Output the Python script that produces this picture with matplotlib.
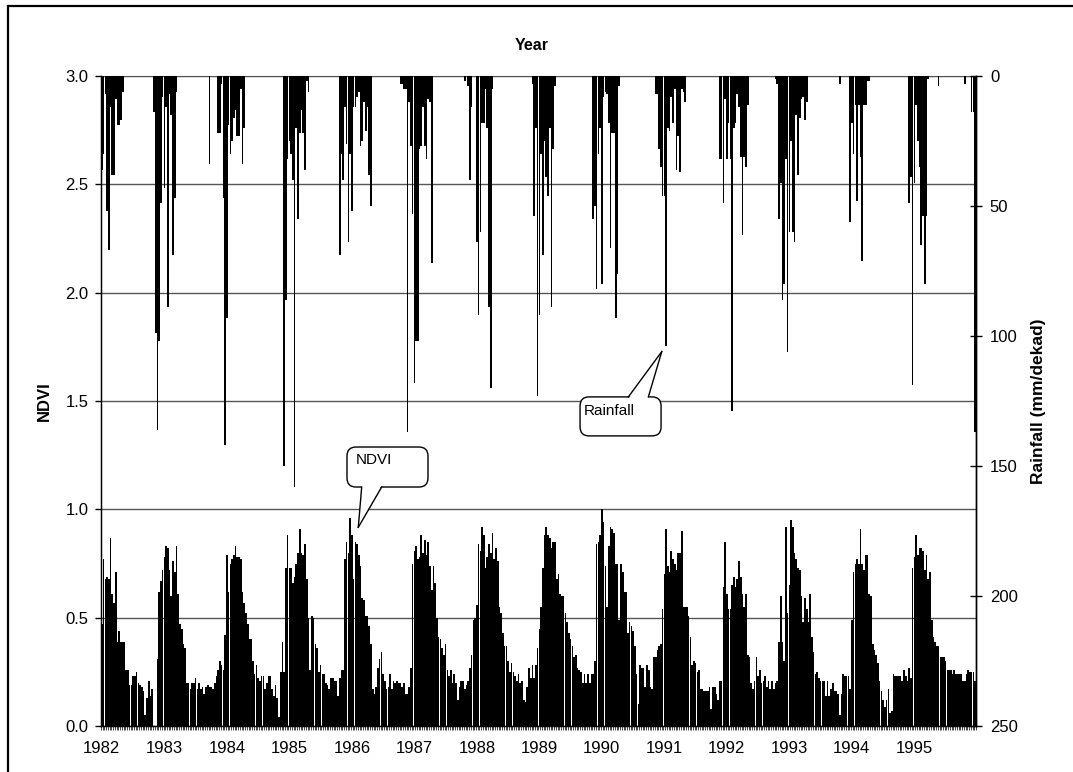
import matplotlib.pyplot as plt
import numpy as np
from matplotlib.patches import FancyBboxPatch, Polygon, Rectangle
from matplotlib.lines import Line2D
from matplotlib.transforms import ScaledTranslation

years = list(range(1982, 1996))

# NDVI per dekad (36 per year)
ndvi_1982 = [0.47, 0.77, 0.68, 0.69, 0.68, 0.87, 0.61, 0.57, 0.71, 0.39, 0.44, 0.39,
             0.39, 0.39, 0.26, 0.26, 0.19, 0.19, 0.23, 0.23, 0.25, 0.20, 0.19, 0.18,
             0.16, 0.05, 0.13, 0.21, 0.14, 0.17, 0.00, 0.00, 0.31, 0.62, 0.67, 0.72]
ndvi_1983 = [0.78, 0.83, 0.82, 0.72, 0.60, 0.76, 0.71, 0.83, 0.61, 0.47, 0.45, 0.38,
             0.36, 0.20, 0.20, 0.17, 0.20, 0.20, 0.22, 0.17, 0.20, 0.17, 0.18, 0.15,
             0.18, 0.19, 0.18, 0.18, 0.17, 0.20, 0.23, 0.26, 0.30, 0.28, 0.26, 0.42]
ndvi_1984 = [0.79, 0.62, 0.75, 0.77, 0.79, 0.83, 0.78, 0.78, 0.77, 0.62, 0.57, 0.52,
             0.47, 0.40, 0.40, 0.30, 0.24, 0.28, 0.22, 0.21, 0.23, 0.23, 0.17, 0.20,
             0.23, 0.23, 0.17, 0.14, 0.19, 0.13, 0.04, 0.25, 0.39, 0.25, 0.73, 0.88]
ndvi_1985 = [0.73, 0.73, 0.66, 0.69, 0.75, 0.80, 0.91, 0.80, 0.79, 0.84, 0.68, 0.50,
             0.26, 0.51, 0.50, 0.38, 0.36, 0.25, 0.28, 0.24, 0.24, 0.20, 0.19, 0.17,
             0.22, 0.22, 0.21, 0.21, 0.14, 0.22, 0.26, 0.26, 0.77, 0.85, 0.80, 0.96]
ndvi_1986 = [0.88, 0.68, 0.85, 0.84, 0.79, 0.74, 0.59, 0.58, 0.51, 0.51, 0.46, 0.38,
             0.17, 0.15, 0.18, 0.27, 0.31, 0.34, 0.24, 0.21, 0.17, 0.18, 0.24, 0.17,
             0.21, 0.20, 0.21, 0.20, 0.20, 0.18, 0.20, 0.15, 0.15, 0.18, 0.27, 0.75]
ndvi_1987 = [0.81, 0.83, 0.77, 0.78, 0.88, 0.80, 0.86, 0.79, 0.85, 0.74, 0.63, 0.74,
             0.66, 0.50, 0.41, 0.40, 0.36, 0.33, 0.38, 0.26, 0.23, 0.26, 0.20, 0.24,
             0.20, 0.12, 0.18, 0.21, 0.21, 0.17, 0.19, 0.21, 0.27, 0.33, 0.49, 0.50]
ndvi_1988 = [0.56, 0.84, 0.81, 0.92, 0.88, 0.73, 0.78, 0.84, 0.80, 0.89, 0.77, 0.82,
             0.76, 0.55, 0.52, 0.43, 0.37, 0.37, 0.30, 0.25, 0.29, 0.25, 0.23, 0.21,
             0.24, 0.20, 0.21, 0.12, 0.11, 0.18, 0.27, 0.22, 0.28, 0.22, 0.28, 0.36]
ndvi_1989 = [0.45, 0.55, 0.73, 0.88, 0.92, 0.88, 0.87, 0.82, 0.85, 0.85, 0.68, 0.70,
             0.61, 0.60, 0.60, 0.52, 0.48, 0.43, 0.40, 0.37, 0.32, 0.33, 0.27, 0.26,
             0.25, 0.20, 0.24, 0.20, 0.24, 0.20, 0.24, 0.24, 0.30, 0.84, 0.85, 0.88]
ndvi_1990 = [1.00, 0.94, 0.74, 0.55, 0.83, 0.92, 0.91, 0.89, 0.75, 0.75, 0.49, 0.75,
             0.71, 0.62, 0.62, 0.43, 0.48, 0.46, 0.44, 0.37, 0.24, 0.10, 0.28, 0.27,
             0.27, 0.18, 0.28, 0.26, 0.18, 0.17, 0.32, 0.32, 0.35, 0.37, 0.38, 0.54]
ndvi_1991 = [0.70, 0.91, 0.74, 0.71, 0.81, 0.77, 0.75, 0.72, 0.80, 0.80, 0.90, 0.55,
             0.55, 0.55, 0.51, 0.41, 0.28, 0.30, 0.29, 0.25, 0.26, 0.17, 0.17, 0.16,
             0.16, 0.16, 0.18, 0.08, 0.18, 0.18, 0.15, 0.12, 0.21, 0.21, 0.64, 0.85]
ndvi_1992 = [0.61, 0.54, 0.54, 0.65, 0.69, 0.64, 0.68, 0.76, 0.69, 0.61, 0.55, 0.61,
             0.33, 0.32, 0.20, 0.17, 0.21, 0.32, 0.23, 0.26, 0.20, 0.21, 0.23, 0.18,
             0.21, 0.17, 0.21, 0.17, 0.20, 0.21, 0.39, 0.60, 0.39, 0.30, 0.92, 0.52]
ndvi_1993 = [0.65, 0.95, 0.92, 0.80, 0.77, 0.73, 0.72, 0.60, 0.48, 0.59, 0.54, 0.48,
             0.61, 0.41, 0.34, 0.24, 0.25, 0.22, 0.21, 0.21, 0.21, 0.14, 0.21, 0.14,
             0.17, 0.20, 0.16, 0.16, 0.15, 0.05, 0.15, 0.24, 0.23, 0.23, 0.23, 0.17]
ndvi_1994 = [0.49, 0.71, 0.75, 0.77, 0.75, 0.91, 0.75, 0.72, 0.79, 0.79, 0.61, 0.60,
             0.38, 0.35, 0.33, 0.29, 0.21, 0.16, 0.12, 0.09, 0.12, 0.17, 0.06, 0.07,
             0.24, 0.23, 0.23, 0.23, 0.23, 0.21, 0.26, 0.23, 0.21, 0.27, 0.22, 0.73]
ndvi_1995 = [0.78, 0.88, 0.79, 0.82, 0.82, 0.81, 0.72, 0.79, 0.68, 0.71, 0.49, 0.41,
             0.39, 0.37, 0.37, 0.32, 0.32, 0.32, 0.30, 0.26, 0.26, 0.26, 0.24, 0.26,
             0.24, 0.24, 0.24, 0.24, 0.21, 0.21, 0.24, 0.26, 0.25, 0.25, 0.25, 0.21]

# Rainfall (mm/dekad)
rain_1982 = [36, 30, 7, 52, 67, 12, 38, 38, 9, 19, 19, 17,
             6, 0, 0, 0, 0, 0, 0, 0, 0, 0, 0, 0,
             0, 0, 0, 0, 0, 0, 14, 99, 136, 102, 49, 8]
rain_1983 = [43, 12, 89, 7, 15, 69, 47, 6, 0, 0, 0, 0,
             0, 0, 0, 0, 0, 0, 0, 0, 0, 0, 0, 0,
             0, 0, 34, 0, 0, 0, 0, 22, 22, 3, 47, 142]
rain_1984 = [93, 19, 30, 25, 16, 13, 23, 23, 5, 34, 20, 0,
             0, 0, 0, 0, 0, 0, 0, 0, 0, 0, 0, 0,
             0, 0, 0, 0, 0, 0, 0, 0, 0, 150, 86, 32]
rain_1985 = [25, 30, 40, 158, 20, 55, 22, 13, 22, 36, 2, 6,
             0, 0, 0, 0, 0, 0, 0, 0, 0, 0, 0, 0,
             0, 0, 0, 0, 0, 69, 30, 40, 12, 26, 64, 30]
rain_1986 = [52, 12, 12, 8, 6, 27, 25, 10, 21, 12, 38, 50,
             0, 0, 0, 0, 0, 0, 0, 0, 0, 0, 0, 0,
             0, 0, 0, 0, 3, 3, 5, 5, 137, 10, 27, 53]
rain_1987 = [118, 102, 102, 28, 27, 12, 27, 32, 9, 10, 72, 0,
             0, 0, 0, 0, 0, 0, 0, 0, 0, 0, 0, 0,
             0, 0, 0, 0, 0, 2, 0, 4, 40, 12, 0, 0]
rain_1988 = [64, 92, 60, 18, 18, 5, 20, 89, 120, 5, 0, 0,
             0, 0, 0, 0, 0, 0, 0, 0, 0, 0, 0, 0,
             0, 0, 0, 0, 0, 0, 0, 0, 3, 54, 20, 123]
rain_1989 = [92, 30, 69, 25, 39, 46, 20, 89, 28, 4, 0, 0,
             0, 0, 0, 0, 0, 0, 0, 0, 0, 0, 0, 0,
             0, 0, 0, 0, 0, 0, 0, 55, 50, 82, 30, 20]
rain_1990 = [80, 8, 6, 7, 18, 66, 22, 22, 93, 76, 4, 0,
             0, 0, 0, 0, 0, 0, 0, 0, 0, 0, 0, 0,
             0, 0, 0, 0, 0, 0, 0, 7, 7, 28, 35, 46]
rain_1991 = [46, 104, 20, 21, 8, 18, 5, 36, 23, 37, 5, 6,
             10, 0, 0, 0, 0, 0, 0, 0, 0, 0, 0, 0,
             0, 0, 0, 0, 0, 0, 0, 0, 32, 32, 49, 9]
rain_1992 = [32, 18, 32, 129, 20, 18, 7, 12, 31, 61, 31, 35,
             11, 0, 0, 0, 0, 0, 0, 0, 0, 0, 0, 0,
             0, 0, 0, 0, 1, 3, 55, 41, 86, 80, 32, 106]
rain_1993 = [60, 25, 60, 64, 15, 38, 16, 9, 8, 17, 10, 0,
             0, 0, 0, 0, 0, 0, 0, 0, 0, 0, 0, 0,
             0, 0, 0, 0, 0, 3, 0, 0, 0, 0, 0, 56]
rain_1994 = [18, 30, 11, 48, 11, 31, 71, 11, 11, 2, 2, 0,
             0, 0, 0, 0, 0, 0, 0, 0, 0, 0, 0, 0,
             0, 0, 0, 0, 0, 0, 0, 0, 0, 49, 39, 119]
rain_1995 = [41, 11, 25, 35, 65, 54, 80, 54, 1, 0, 0, 0,
             0, 0, 4, 0, 0, 0, 0, 0, 0, 0, 0, 0,
             0, 0, 0, 0, 0, 3, 0, 0, 0, 14, 14, 137]

ndvi = np.concatenate([ndvi_1982, ndvi_1983, ndvi_1984, ndvi_1985, ndvi_1986,
                       ndvi_1987, ndvi_1988, ndvi_1989, ndvi_1990, ndvi_1991,
                       ndvi_1992, ndvi_1993, ndvi_1994, ndvi_1995])
rain = np.concatenate([rain_1982, rain_1983, rain_1984, rain_1985, rain_1986,
                       rain_1987, rain_1988, rain_1989, rain_1990, rain_1991,
                       rain_1992, rain_1993, rain_1994, rain_1995])
x = np.arange(len(ndvi))

plt.rcParams['font.family'] = ['Liberation Sans', 'DejaVu Sans']
W, H = 1073, 772
fig = plt.figure(figsize=(W / 100, H / 100), dpi=100)
ax = fig.add_axes([101 / W, 46 / H, 875 / W, 650 / H])

# NDVI bars
ax.bar(x, ndvi, width=0.95, color='black', linewidth=0, zorder=2)
ax.set_xlim(-0.5, len(x) - 0.5)
ax.set_ylim(0, 3)
ax.set_yticks(np.arange(0, 3.01, 0.5))
ax.set_yticklabels(["%.1f" % v for v in np.arange(0, 3.01, 0.5)])
ax.yaxis.grid(True, color='#555555', linewidth=1)
ax.set_axisbelow(True)
ax.set_xticks(x[::36])
ax.set_xticklabels([str(y) for y in years])
ax.set_xticks(np.arange(-0.5, len(x), 1), minor=True)
ax.tick_params(axis='x', which='major', length=0, pad=11, labelsize=12)
ax.tick_params(axis='x', which='minor', length=3, width=0.5, direction='out')
ax.tick_params(axis='y', length=4, width=1, pad=5, labelsize=12)
ax.spines['top'].set_color('#555555')
for s in ['left', 'bottom', 'right']:
    ax.spines[s].set_linewidth(1)

# Rainfall bars on inverted secondary axis
ax2 = ax.twinx()
ax2.bar(x, rain, width=0.95, color='black', linewidth=0, zorder=2)
ax2.set_ylim(250, 0)
ax2.set_yticks(np.arange(0, 251, 50))
ax2.tick_params(axis='y', direction='inout', length=8, width=1, pad=6, labelsize=12)
ax2.spines['top'].set_visible(False)
ax2.spines['right'].set_linewidth(1)

fig.text(532 / W, 1 - 46 / H, 'Year', ha='center', va='center',
         fontsize=11.5, fontweight='bold')
fig.text(44 / W, 1 - 401 / H, 'NDVI', rotation=90, ha='center', va='center',
         fontsize=12, fontweight='bold')
fig.text(1039 / W, 1 - 401 / H, 'Rainfall (mm/dekad)', rotation=90,
         ha='center', va='center', fontsize=12.5, fontweight='bold')


def callout(label, tip, data_trans, box, base, text_pos):
    # box, base, text_pos in inches relative to the tip point
    tr = fig.dpi_scale_trans + ScaledTranslation(tip[0], tip[1], data_trans)
    (bx0, by0), (bx1, by1) = box
    ax2.add_patch(FancyBboxPatch((bx0, by0), bx1 - bx0, by1 - by0,
                                 boxstyle='round,pad=0,rounding_size=0.09',
                                 transform=tr, fc='white', ec='black', lw=1,
                                 zorder=10, clip_on=False))
    edge = by0 if base[0][1] > 0 else by1
    inner = edge + (0.02 if edge == by0 else -0.02)
    ax2.add_patch(Polygon([(base[0][0], inner), (base[1][0], inner), (0, 0)],
                          closed=True, transform=tr, fc='white', ec='none',
                          zorder=11, clip_on=False))
    for bxp, byp in base:
        ax2.add_line(Line2D([bxp, 0], [byp, 0], transform=tr, color='black',
                            lw=1, zorder=12, clip_on=False))
    ax2.text(text_pos[0], text_pos[1], label, transform=tr, ha='left',
             va='center', fontsize=11, zorder=13)


# NDVI callout pointing at the 1986 peak
callout('NDVI', (147.7, 0.917), ax.transData,
        ((-0.113, 0.403), (0.697, 0.803)),
        [(0.034, 0.403), (0.234, 0.403)], (-0.023, 0.673))
# Rainfall callout pointing at the 1991 rainfall spike
callout('Rainfall', (322.5, 106), ax2.transData,
        ((-0.817, -0.843), (-0.007, -0.453)),
        [(-0.334, -0.453), (-0.134, -0.453)], (-0.777, -0.593))

# outer frame
fig.patches.append(Rectangle((7.5 / W, -0.05), 1.2, 1 - 6 / H + 0.05,
                             transform=fig.transFigure, fill=False,
                             ec='black', lw=1.6, figure=fig))

fig.savefig('out.png', dpi=100)
